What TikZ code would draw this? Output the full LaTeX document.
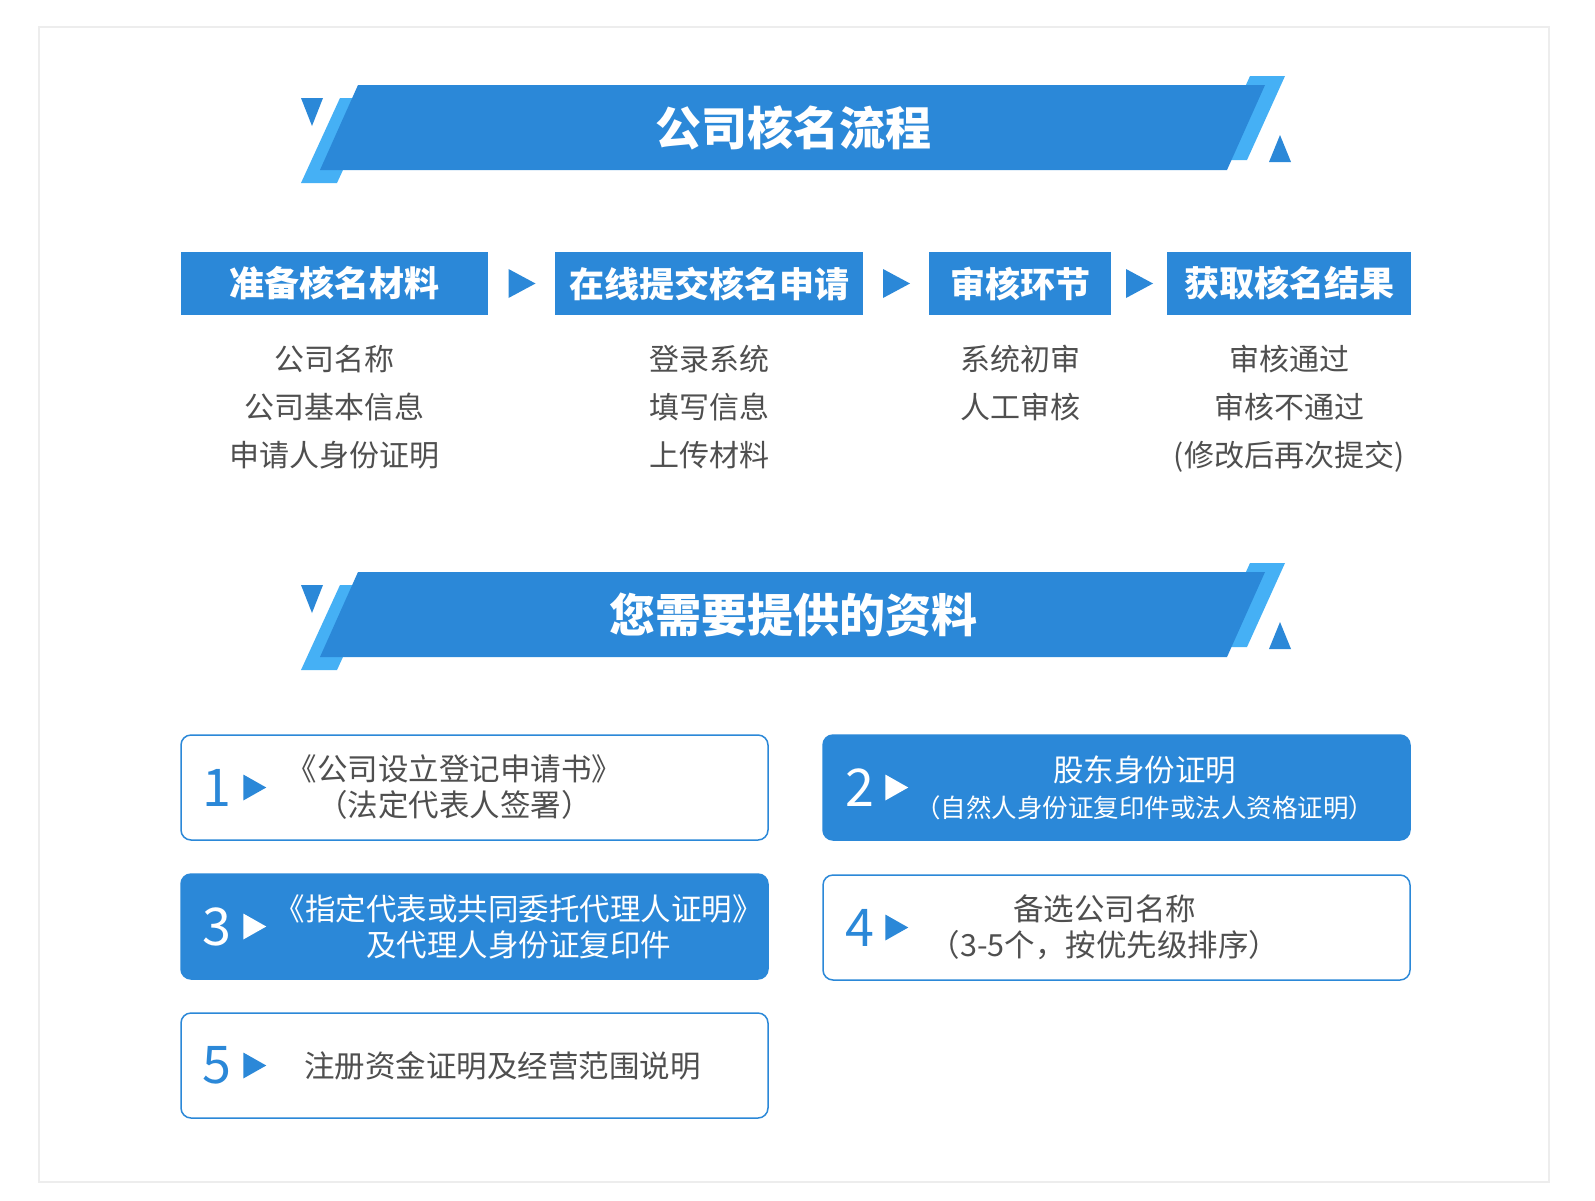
\documentclass[tikz,border=0pt]{standalone}
\usepackage{fontspec}
\setmainfont{Noto Sans CJK SC}
\usetikzlibrary{positioning, calc}
\definecolor{banner}  {HTML}{2B88D8}
\definecolor{bannerlt}{HTML}{45B0F5}
\definecolor{bodytxt} {HTML}{4F4F4F}
\definecolor{frame}   {HTML}{EDEDED}
% small play mark drawn to the right of a point
\newcommand\playmark[3]{\fill[#3] ($(#1)+(#2,-13)$) -- ++(23,13) -- ++(-23,13) -- cycle;}

\begin{document}
\begin{tikzpicture}[x=1pt, y=-1pt,
    head/.style={fill=banner, text=white, font=\fontsize{35pt}{40pt}\selectfont\bfseries, minimum height=63pt, inner sep=0pt},
    steptext/.style={text=bodytxt, font=\fontsize{30pt}{48pt}\selectfont, align=center, inner sep=0pt},
    itembox/.style={draw=banner, line width=1.5pt, rounded corners=10pt, minimum width=587pt, minimum height=105pt, inner sep=0pt},
    itemfill/.style={itembox, fill=banner},
    num/.style={font=\fontsize{52pt}{52pt}\selectfont, inner sep=0pt},
    itemtext/.style={font=\fontsize{30.5pt}{36pt}\selectfont, align=center, inner sep=0pt}]
  \fill[white] (0,0) rectangle (1595,1200);
  \useasboundingbox (0,0) rectangle (1595,1200);
  \draw[frame, line width=1.5pt] (39,27) rectangle (1549,1182);

  % the two title banners
  \foreach \dy/\name/\title in {0/title1/公司核名流程, 487/title2/您需要提供的资料} {
    \begin{scope}[shift={(0,\dy)}]
      \fill[bannerlt] (340,98) -- (376,98) -- (337,183) -- (301,183) -- cycle;
      \fill[bannerlt] (1250,76) -- (1285,76) -- (1247,160) -- (1212,160) -- cycle;
      \fill[banner] (358,85) -- (1265,85) -- (1227,170) -- (320,170) -- cycle;
      \fill[banner] (301,98) -- (323,98) -- (312,126) -- cycle;
      \fill[banner] (1280,135) -- (1291,162) -- (1269,162) -- cycle;
      \node[text=white, font=\fontsize{46pt}{50pt}\selectfont\bfseries] (\name) at (793,128) {\title};
    \end{scope}
  }

  % process steps
  \node[head, minimum width=307pt] (h1) at (334.5,283.5) {准备核名材料};
  \node[head, minimum width=308pt] (h2) at (709,283.5) {在线提交核名申请};
  \node[head, minimum width=182pt] (h3) at (1020,283.5) {审核环节};
  \node[head, minimum width=244pt] (h4) at (1289,283.5) {获取核名结果};
  \foreach \a/\b in {h1/h2, h2/h3, h3/h4}
    \fill[banner] ($(\a.east)!.5!(\b.west)+(-13,-14.5)$) -- ++(27,14.5) -- ++(-27,14.5) -- cycle;

  \node[steptext, below=30pt of h1] (s1) {公司名称\\公司基本信息\\申请人身份证明};
  \node[steptext, below=30pt of h2] (s2) {登录系统\\填写信息\\上传材料};
  \node[steptext, below=30pt of h3] (s3) {系统初审\\人工审核};
  \node[steptext, below=30pt of h4] (s4) {审核通过\\审核不通过\\(修改后再次提交)};

  % materials
  \node[itembox] (b1) at (474.5,787.5) {};
  \node[num, text=banner] (n1) at ([xshift=37pt]b1.west) {1};
  \playmark{b1.west}{63}{banner}
  \node[itemtext, text=bodytxt] (d1) at ([xshift=-20pt]b1.center) {《公司设立登记申请书》\\（法定代表人签署）};

  \node[itemfill] (b2) at (1116.5,787.5) {};
  \node[num, text=white] (n2) at ([xshift=38pt]b2.west) {2};
  \playmark{b2.west}{63}{white}
  \node[itemtext, text=white] (d2) at ([xshift=28pt]b2.center) {股东身份证明\\{\fontsize{25.5pt}{36pt}\selectfont （自然人身份证复印件或法人资格证明）}};

  \node[itemfill] (b3) at (474.5,926.5) {};
  \node[num, text=white] (n3) at ([xshift=37pt]b3.west) {3};
  \playmark{b3.west}{63}{white}
  \node[itemtext, text=white] (d3) at ([xshift=44pt]b3.center) {《指定代表或共同委托代理人证明》\\及代理人身份证复印件};

  \node[itembox] (b4) at (1116.5,927.5) {};
  \node[num, text=banner] (n4) at ([xshift=38pt]b4.west) {4};
  \playmark{b4.west}{63}{banner}
  \node[itemtext, text=bodytxt] (d4) at ([xshift=-12pt]b4.center) {备选公司名称\\（3-5个，按优先级排序）};

  \node[itembox] (b5) at (474.5,1065.5) {};
  \node[num, text=banner] (n5) at ([xshift=37pt]b5.west) {5};
  \playmark{b5.west}{63}{banner}
  \node[itemtext, text=bodytxt] (d5) at ([xshift=28pt]b5.center) {注册资金证明及经营范围说明};
\end{tikzpicture}
\end{document}
